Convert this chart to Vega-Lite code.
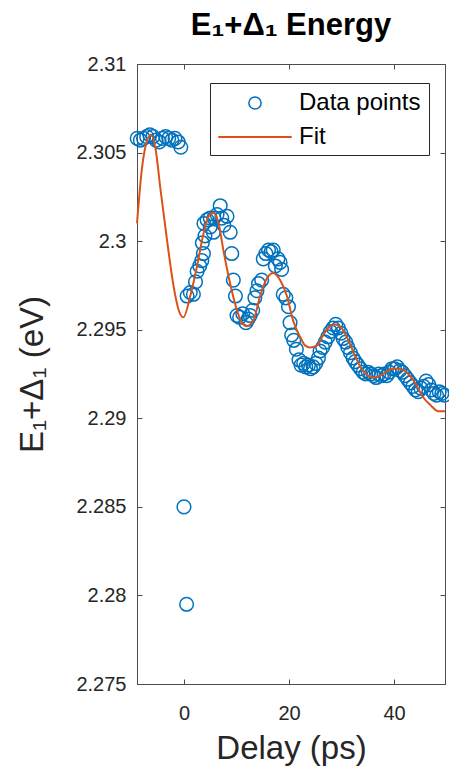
{
  "$schema": "https://vega.github.io/schema/vega-lite/v6.json",
  "width": 308,
  "height": 620,
  "autosize": {"type": "none"},
  "padding": {"left": 137, "top": 64, "right": 4, "bottom": 84},
  "background": "white",
  "config": {
    "font": "Liberation Sans",
    "view": {"stroke": "#4d4d4d", "strokeWidth": 1}
  },
  "title": {
    "text": "E₁+Δ₁ Energy",
    "fontSize": 31,
    "fontWeight": "bold",
    "color": "#000000",
    "anchor": "middle",
    "baseline": "alphabetic",
    "offset": -9,
    "dy": 3
  },
  "datasets": {
    "pts": [
      {"delay": -8.9, "energy": 2.3058, "series": "Data points"},
      {"delay": -8.3, "energy": 2.3057, "series": "Data points"},
      {"delay": -7.7, "energy": 2.3058, "series": "Data points"},
      {"delay": -7.1, "energy": 2.3059, "series": "Data points"},
      {"delay": -6.5, "energy": 2.3060, "series": "Data points"},
      {"delay": -5.9, "energy": 2.3059, "series": "Data points"},
      {"delay": -5.3, "energy": 2.3057, "series": "Data points"},
      {"delay": -4.7, "energy": 2.3056, "series": "Data points"},
      {"delay": -4.1, "energy": 2.3058, "series": "Data points"},
      {"delay": -3.5, "energy": 2.3059, "series": "Data points"},
      {"delay": -2.9, "energy": 2.3058, "series": "Data points"},
      {"delay": -2.3, "energy": 2.3057, "series": "Data points"},
      {"delay": -1.7, "energy": 2.3058, "series": "Data points"},
      {"delay": -1.1, "energy": 2.3056, "series": "Data points"},
      {"delay": -0.6, "energy": 2.3053, "series": "Data points"},
      {"delay": 0.0, "energy": 2.2850, "series": "Data points"},
      {"delay": 0.5, "energy": 2.2795, "series": "Data points"},
      {"delay": 0.6, "energy": 2.2969, "series": "Data points"},
      {"delay": 1.2, "energy": 2.2971, "series": "Data points"},
      {"delay": 1.8, "energy": 2.2970, "series": "Data points"},
      {"delay": 2.2, "energy": 2.2977, "series": "Data points"},
      {"delay": 2.5, "energy": 2.2983, "series": "Data points"},
      {"delay": 3.0, "energy": 2.2986, "series": "Data points"},
      {"delay": 3.4, "energy": 2.2989, "series": "Data points"},
      {"delay": 3.7, "energy": 2.2993, "series": "Data points"},
      {"delay": 3.5, "energy": 2.2999, "series": "Data points"},
      {"delay": 4.0, "energy": 2.3003, "series": "Data points"},
      {"delay": 3.8, "energy": 2.3010, "series": "Data points"},
      {"delay": 4.4, "energy": 2.3012, "series": "Data points"},
      {"delay": 5.0, "energy": 2.3008, "series": "Data points"},
      {"delay": 5.0, "energy": 2.3013, "series": "Data points"},
      {"delay": 5.6, "energy": 2.3005, "series": "Data points"},
      {"delay": 5.7, "energy": 2.3013, "series": "Data points"},
      {"delay": 6.3, "energy": 2.3015, "series": "Data points"},
      {"delay": 6.9, "energy": 2.3020, "series": "Data points"},
      {"delay": 7.2, "energy": 2.3013, "series": "Data points"},
      {"delay": 7.6, "energy": 2.3009, "series": "Data points"},
      {"delay": 8.2, "energy": 2.3014, "series": "Data points"},
      {"delay": 8.8, "energy": 2.3005, "series": "Data points"},
      {"delay": 9.1, "energy": 2.2993, "series": "Data points"},
      {"delay": 9.4, "energy": 2.2978, "series": "Data points"},
      {"delay": 9.8, "energy": 2.2969, "series": "Data points"},
      {"delay": 10.1, "energy": 2.2958, "series": "Data points"},
      {"delay": 10.6, "energy": 2.2957, "series": "Data points"},
      {"delay": 11.2, "energy": 2.2959, "series": "Data points"},
      {"delay": 11.8, "energy": 2.2954, "series": "Data points"},
      {"delay": 12.2, "energy": 2.2956, "series": "Data points"},
      {"delay": 12.6, "energy": 2.2958, "series": "Data points"},
      {"delay": 13.1, "energy": 2.2961, "series": "Data points"},
      {"delay": 13.5, "energy": 2.2968, "series": "Data points"},
      {"delay": 13.9, "energy": 2.2972, "series": "Data points"},
      {"delay": 14.2, "energy": 2.2976, "series": "Data points"},
      {"delay": 14.8, "energy": 2.2978, "series": "Data points"},
      {"delay": 15.1, "energy": 2.2990, "series": "Data points"},
      {"delay": 15.6, "energy": 2.2993, "series": "Data points"},
      {"delay": 16.1, "energy": 2.2995, "series": "Data points"},
      {"delay": 16.6, "energy": 2.2994, "series": "Data points"},
      {"delay": 17.0, "energy": 2.2995, "series": "Data points"},
      {"delay": 17.4, "energy": 2.2986, "series": "Data points"},
      {"delay": 17.9, "energy": 2.2990, "series": "Data points"},
      {"delay": 18.3, "energy": 2.2988, "series": "Data points"},
      {"delay": 18.6, "energy": 2.2984, "series": "Data points"},
      {"delay": 18.9, "energy": 2.2970, "series": "Data points"},
      {"delay": 19.4, "energy": 2.2968, "series": "Data points"},
      {"delay": 19.9, "energy": 2.2963, "series": "Data points"},
      {"delay": 20.2, "energy": 2.2954, "series": "Data points"},
      {"delay": 20.5, "energy": 2.2947, "series": "Data points"},
      {"delay": 20.9, "energy": 2.2944, "series": "Data points"},
      {"delay": 21.4, "energy": 2.2939, "series": "Data points"},
      {"delay": 21.9, "energy": 2.2933, "series": "Data points"},
      {"delay": 22.3, "energy": 2.2930, "series": "Data points"},
      {"delay": 22.8, "energy": 2.2931, "series": "Data points"},
      {"delay": 23.2, "energy": 2.2929, "series": "Data points"},
      {"delay": 23.7, "energy": 2.2930, "series": "Data points"},
      {"delay": 24.1, "energy": 2.2928, "series": "Data points"},
      {"delay": 24.6, "energy": 2.2929, "series": "Data points"},
      {"delay": 25.1, "energy": 2.2931, "series": "Data points"},
      {"delay": 25.6, "energy": 2.2934, "series": "Data points"},
      {"delay": 25.9, "energy": 2.2938, "series": "Data points"},
      {"delay": 26.4, "energy": 2.2940, "series": "Data points"},
      {"delay": 26.9, "energy": 2.2943, "series": "Data points"},
      {"delay": 27.4, "energy": 2.2946, "series": "Data points"},
      {"delay": 27.9, "energy": 2.2949, "series": "Data points"},
      {"delay": 28.4, "energy": 2.2951, "series": "Data points"},
      {"delay": 28.9, "energy": 2.2953, "series": "Data points"},
      {"delay": 29.4, "energy": 2.2951, "series": "Data points"},
      {"delay": 29.9, "energy": 2.2948, "series": "Data points"},
      {"delay": 30.3, "energy": 2.2945, "series": "Data points"},
      {"delay": 30.8, "energy": 2.2943, "series": "Data points"},
      {"delay": 31.2, "energy": 2.2940, "series": "Data points"},
      {"delay": 31.7, "energy": 2.2937, "series": "Data points"},
      {"delay": 32.2, "energy": 2.2934, "series": "Data points"},
      {"delay": 32.6, "energy": 2.2932, "series": "Data points"},
      {"delay": 33.1, "energy": 2.2930, "series": "Data points"},
      {"delay": 33.6, "energy": 2.2928, "series": "Data points"},
      {"delay": 34.1, "energy": 2.2926, "series": "Data points"},
      {"delay": 34.6, "energy": 2.2925, "series": "Data points"},
      {"delay": 35.1, "energy": 2.2926, "series": "Data points"},
      {"delay": 35.6, "energy": 2.2925, "series": "Data points"},
      {"delay": 36.1, "energy": 2.2924, "series": "Data points"},
      {"delay": 36.6, "energy": 2.2923, "series": "Data points"},
      {"delay": 37.1, "energy": 2.2925, "series": "Data points"},
      {"delay": 37.6, "energy": 2.2924, "series": "Data points"},
      {"delay": 38.1, "energy": 2.2925, "series": "Data points"},
      {"delay": 38.6, "energy": 2.2924, "series": "Data points"},
      {"delay": 39.1, "energy": 2.2926, "series": "Data points"},
      {"delay": 39.6, "energy": 2.2928, "series": "Data points"},
      {"delay": 40.1, "energy": 2.2928, "series": "Data points"},
      {"delay": 40.6, "energy": 2.2929, "series": "Data points"},
      {"delay": 41.1, "energy": 2.2927, "series": "Data points"},
      {"delay": 41.6, "energy": 2.2926, "series": "Data points"},
      {"delay": 42.1, "energy": 2.2924, "series": "Data points"},
      {"delay": 42.6, "energy": 2.2922, "series": "Data points"},
      {"delay": 43.1, "energy": 2.2920, "series": "Data points"},
      {"delay": 43.6, "energy": 2.2918, "series": "Data points"},
      {"delay": 44.1, "energy": 2.2916, "series": "Data points"},
      {"delay": 44.6, "energy": 2.2915, "series": "Data points"},
      {"delay": 45.1, "energy": 2.2917, "series": "Data points"},
      {"delay": 45.6, "energy": 2.2918, "series": "Data points"},
      {"delay": 46.1, "energy": 2.2921, "series": "Data points"},
      {"delay": 46.6, "energy": 2.2919, "series": "Data points"},
      {"delay": 47.1, "energy": 2.2916, "series": "Data points"},
      {"delay": 47.6, "energy": 2.2914, "series": "Data points"},
      {"delay": 48.1, "energy": 2.2913, "series": "Data points"},
      {"delay": 48.6, "energy": 2.2915, "series": "Data points"},
      {"delay": 49.1, "energy": 2.2914, "series": "Data points"},
      {"delay": 49.6, "energy": 2.2913, "series": "Data points"}
    ],
    "fit": [
      {"delay": -8.94, "energy": 2.3010, "series": "Fit"},
      {"delay": -8.0, "energy": 2.3041, "series": "Fit"},
      {"delay": -7.2, "energy": 2.3055, "series": "Fit"},
      {"delay": -6.3, "energy": 2.3060, "series": "Fit"},
      {"delay": -5.4, "energy": 2.3052, "series": "Fit"},
      {"delay": -4.5, "energy": 2.3030, "series": "Fit"},
      {"delay": -3.2, "energy": 2.3000, "series": "Fit"},
      {"delay": -2.0, "energy": 2.2975, "series": "Fit"},
      {"delay": -1.0, "energy": 2.2961, "series": "Fit"},
      {"delay": -0.1, "energy": 2.2957, "series": "Fit"},
      {"delay": 1.2, "energy": 2.2969, "series": "Fit"},
      {"delay": 2.5, "energy": 2.2986, "series": "Fit"},
      {"delay": 3.7, "energy": 2.3004, "series": "Fit"},
      {"delay": 4.7, "energy": 2.3014, "series": "Fit"},
      {"delay": 5.5, "energy": 2.3016, "series": "Fit"},
      {"delay": 6.6, "energy": 2.3010, "series": "Fit"},
      {"delay": 7.5, "energy": 2.2995, "series": "Fit"},
      {"delay": 8.8, "energy": 2.2976, "series": "Fit"},
      {"delay": 10.1, "energy": 2.2961, "series": "Fit"},
      {"delay": 11.0, "energy": 2.2954, "series": "Fit"},
      {"delay": 12.0, "energy": 2.2952, "series": "Fit"},
      {"delay": 13.2, "energy": 2.2955, "series": "Fit"},
      {"delay": 14.5, "energy": 2.2969, "series": "Fit"},
      {"delay": 15.8, "energy": 2.2979, "series": "Fit"},
      {"delay": 17.0, "energy": 2.2982, "series": "Fit"},
      {"delay": 18.3, "energy": 2.2978, "series": "Fit"},
      {"delay": 19.6, "energy": 2.2969, "series": "Fit"},
      {"delay": 20.8, "energy": 2.2955, "series": "Fit"},
      {"delay": 22.1, "energy": 2.2946, "series": "Fit"},
      {"delay": 23.1, "energy": 2.2941, "series": "Fit"},
      {"delay": 24.0, "energy": 2.2940, "series": "Fit"},
      {"delay": 25.3, "energy": 2.2941, "series": "Fit"},
      {"delay": 26.5, "energy": 2.2947, "series": "Fit"},
      {"delay": 27.8, "energy": 2.2952, "series": "Fit"},
      {"delay": 28.8, "energy": 2.2953, "series": "Fit"},
      {"delay": 30.0, "energy": 2.2951, "series": "Fit"},
      {"delay": 31.3, "energy": 2.2944, "series": "Fit"},
      {"delay": 32.6, "energy": 2.2935, "series": "Fit"},
      {"delay": 33.8, "energy": 2.2928, "series": "Fit"},
      {"delay": 35.1, "energy": 2.2924, "series": "Fit"},
      {"delay": 36.4, "energy": 2.2923, "series": "Fit"},
      {"delay": 37.9, "energy": 2.2925, "series": "Fit"},
      {"delay": 39.6, "energy": 2.2928, "series": "Fit"},
      {"delay": 40.8, "energy": 2.2928, "series": "Fit"},
      {"delay": 42.4, "energy": 2.2926, "series": "Fit"},
      {"delay": 44.0, "energy": 2.2920, "series": "Fit"},
      {"delay": 45.5, "energy": 2.2912, "series": "Fit"},
      {"delay": 47.1, "energy": 2.2907, "series": "Fit"},
      {"delay": 48.4, "energy": 2.2904, "series": "Fit"},
      {"delay": 49.7, "energy": 2.2904, "series": "Fit"}
    ]
  },
  "layer": [
    {
      "data": {"name": "pts"},
      "mark": {"type": "point", "filled": false, "size": 185, "strokeWidth": 1.5, "opacity": 1, "clip": false},
      "encoding": {
        "x": {
          "field": "delay", "type": "quantitative",
          "scale": {"domain": [-8.94, 49.7], "nice": false, "zero": false},
          "axis": {
            "orient": "bottom", "values": [0, 20, 40], "grid": false,
            "title": "Delay (ps)", "titleFontSize": 33, "titleFontWeight": "normal", "titleColor": "#262626",
            "titleX": 154, "titleY": 74, "titleBaseline": "alphabetic", "titleAlign": "center",
            "labelFontSize": 20, "labelColor": "#262626", "labelPadding": 24, "labelBaseline": "top",
            "domainColor": "#4d4d4d", "tickColor": "#4d4d4d", "tickSize": -5
          }
        },
        "y": {
          "field": "energy", "type": "quantitative",
          "scale": {"domain": [2.275, 2.31], "nice": false, "zero": false},
          "axis": {
            "orient": "left", "values": [2.275, 2.28, 2.285, 2.29, 2.295, 2.3, 2.305, 2.31], "format": ".3~f", "grid": false,
            "title": "E₁+Δ₁ (eV)", "titleFontSize": 33, "titleFontWeight": "normal", "titleColor": "#262626",
            "titleX": -95, "titleY": 310, "titleAngle": -90, "titleBaseline": "alphabetic", "titleAlign": "center",
            "labelFontSize": 20, "labelColor": "#262626", "labelPadding": 16,
            "domainColor": "#4d4d4d", "tickColor": "#4d4d4d", "tickSize": -5
          }
        },
        "stroke": {
          "field": "series", "type": "nominal",
          "scale": {"domain": ["Data points"], "range": ["#0072BD"]},
          "legend": {
            "orient": "none", "legendX": 73, "legendY": 19,
            "title": "Fit", "titleOrient": "bottom", "titleAnchor": "start", "titleFontSize": 24, "titlePadding": 8,
            "titleColor": "rgba(255,255,255,0)",
            "labelFontSize": 24, "labelColor": "#000000", "padding": 8,
            "strokeColor": "#262626", "fillColor": "white",
            "symbolType": "circle", "symbolSize": 150, "symbolStrokeWidth": 1.5, "symbolFillColor": "transparent",
            "symbolOffset": 25, "labelOffset": 32
          }
        }
      }
    },
    {
      "data": {"name": "fit"},
      "mark": {"type": "line", "strokeWidth": 2, "interpolate": "monotone", "clip": false},
      "encoding": {
        "x": {
          "field": "delay", "type": "quantitative",
          "axis": {"orient": "top", "values": [0, 20, 40], "labels": false, "title": null, "grid": false,
                   "domainColor": "#4d4d4d", "tickColor": "#4d4d4d", "tickSize": -5}
        },
        "y": {
          "field": "energy", "type": "quantitative",
          "axis": {"orient": "right", "values": [2.275, 2.28, 2.285, 2.29, 2.295, 2.3, 2.305, 2.31], "labels": false, "title": null, "grid": false,
                   "domainColor": "#4d4d4d", "tickColor": "#4d4d4d", "tickSize": -5}
        },
        "color": {
          "field": "series", "type": "nominal",
          "scale": {"domain": ["Fit"], "range": ["#D95319"]},
          "legend": {
            "orient": "none", "legendX": 73, "legendY": 53, "title": null,
            "labelFontSize": 24, "labelColor": "#000000", "padding": 8,
            "fillColor": "transparent",
            "symbolType": "M-6,0H6", "symbolSize": 150, "symbolStrokeWidth": 2,
            "symbolOffset": 25, "labelOffset": 32
          }
        }
      }
    }
  ],
  "resolve": {"axis": {"x": "independent", "y": "independent"}}
}
